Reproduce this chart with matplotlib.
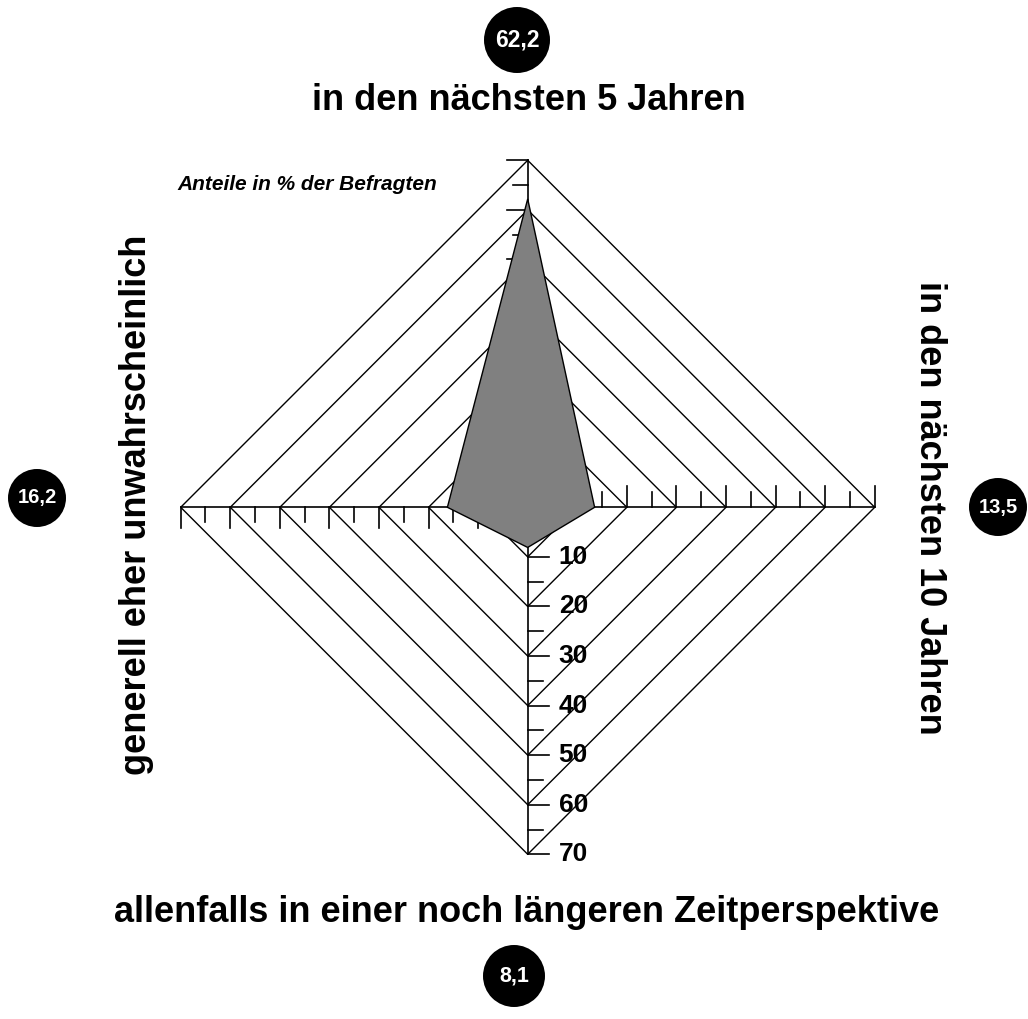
import matplotlib
matplotlib.use("Agg")
import matplotlib.pyplot as plt
from matplotlib.patches import Polygon, Circle

# ---- data ----
categories = ["in den nächsten 5 Jahren", "in den nächsten 10 Jahren",
              "allenfalls in einer noch längeren Zeitperspektive",
              "generell eher unwahrscheinlich"]
values = [62.2, 13.5, 8.1, 16.2]
value_labels = ["62,2", "13,5", "8,1", "16,2"]
grid_levels = [10, 20, 30, 40, 50, 60, 70]
tick_labels = ["10", "20", "30", "40", "50", "60", "70"]
subtitle = "Anteile in % der Befragten"

FONT = ["Liberation Sans", "DejaVu Sans"]
plt.rcParams['font.family'] = FONT

W, H, DPI = 1028, 1019, 100
fig = plt.figure(figsize=(W / DPI, H / DPI), dpi=DPI)
ax = fig.add_axes([0, 0, 1, 1])
ax.set_axis_off()

cx, cy = 527.7, 507.3
s = 347.0 / 70.0  # px per unit
ax.set_xlim(-cx / s, (W - cx) / s)
ax.set_ylim(-(H - cy) / s, cy / s)
ax.set_aspect('equal')

def px(x, y):
    return ((x - cx) / s, (cy - y) / s)

# axis directions: top, right, bottom, left
dirs = [(0, 1), (1, 0), (0, -1), (-1, 0)]
rmax = grid_levels[-1]

# diamonds
for g in grid_levels:
    xs = [0, g, 0, -g, 0]
    ys = [g, 0, -g, 0, g]
    ax.plot(xs, ys, color='black', lw=1.0, zorder=1)

# axes with ticks
maj = 21 / s
mnr = 15 / s
for dx, dy in dirs:
    ax.plot([0, dx * rmax], [0, dy * rmax], color='black', lw=1.2, zorder=1)
    tx, ty = -dy, dx  # rotate CCW
    for k in range(5, rmax + 1, 5):
        L = maj if k % 10 == 0 else mnr
        bx, by = dx * k, dy * k
        ax.plot([bx, bx + tx * L], [by, by + ty * L], color='black', lw=1.2, zorder=1)

# data polygon
pts = [(dx * v, dy * v) for (dx, dy), v in zip(dirs, values)]
ax.add_patch(Polygon(pts, closed=True, facecolor='#808080', edgecolor='black',
                     lw=1.0, zorder=3))

# tick labels on bottom axis
for g, t in zip(grid_levels, tick_labels):
    ax.text(31 / s, -g, t, ha='left', va='center', fontsize=19,
            fontweight='bold', zorder=4)

# category labels
x, y = px(529, 100)
ax.text(x, y, categories[0], ha='center', va='center', fontsize=26, fontweight='bold')
x, y = px(930, 508)
ax.text(x, y, categories[1], ha='center', va='center', fontsize=26,
        fontweight='bold', rotation=-90)
x, y = px(527, 913)
ax.text(x, y, categories[2], ha='center', va='center', fontsize=26, fontweight='bold')
x, y = px(137, 505)
ax.text(x, y, categories[3], ha='center', va='center', fontsize=26,
        fontweight='bold', rotation=90)

x, y = px(177, 185)
ax.text(x, y, subtitle, ha='left', va='center', fontsize=15,
        fontweight='bold', style='italic')

# value circles
circ = [((517, 40), 33, 16.5), ((998, 507), 29, 14.5),
        ((514, 976), 31, 15.5), ((37, 498), 29, 14.5)]
for ((ux, uy), r, fs), lab in zip(circ, value_labels):
    x, y = px(ux, uy)
    ax.add_patch(Circle((x, y), r / s, facecolor='black', edgecolor='none', zorder=5))
    ax.text(x, y, lab, ha='center', va='center', color='white', fontsize=fs,
            fontweight='bold', zorder=6)

fig.savefig("out.png", dpi=DPI)
